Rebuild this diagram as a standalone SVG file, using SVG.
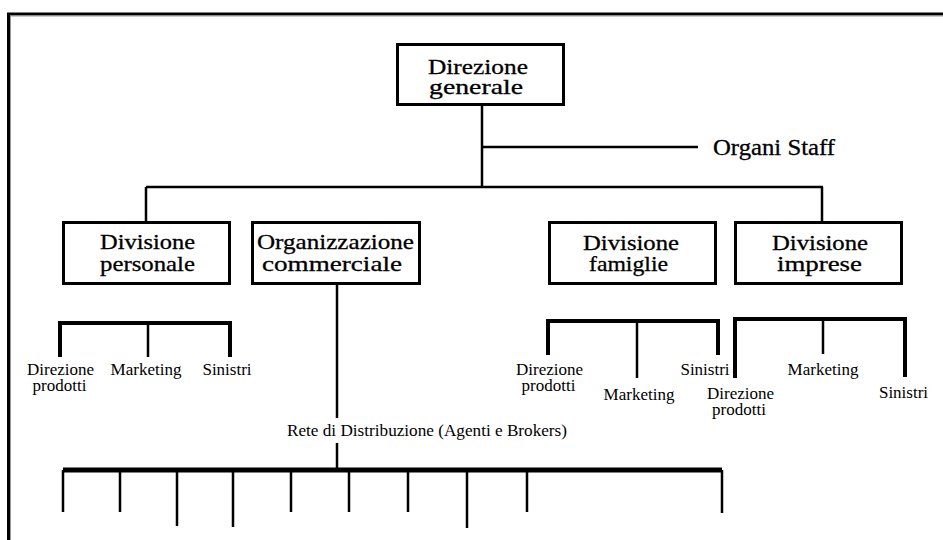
<svg xmlns="http://www.w3.org/2000/svg" width="943" height="540" viewBox="0 0 943 540">
<style>
  .box { fill: #fff; stroke: #000; stroke-width: 3; }
  .ln { stroke: #000; stroke-width: 2.5; fill: none; stroke-linecap: butt; }
  .br { stroke: #000; stroke-width: 4; fill: none; }
  .bar { stroke: #000; stroke-width: 5; fill: none; }
  .bt { font-family: "Liberation Serif", "Times New Roman", serif; font-size: 22px; fill: #000; stroke: #000; stroke-width: 0.3; text-anchor: middle; }
  .os { font-family: "Liberation Serif", "Times New Roman", serif; font-size: 23px; fill: #000; stroke: #000; stroke-width: 0.3; }
  .st { font-family: "Liberation Serif", "Times New Roman", serif; font-size: 17px; fill: #000; text-anchor: middle; }
</style>
<rect x="0" y="0" width="943" height="540" fill="#fff"/>
<g id="frame">
  <path d="M8.5 540 V14 H943" fill="none" stroke="#000" stroke-width="3"/>
  <path d="M10.5 540 V16 H943" fill="none" stroke="#999" stroke-width="1"/>
</g>
<g id="connectors">
  <path class="ln" d="M482 106 V187"/>
  <path class="ln" d="M482 147 H698"/>
  <path class="ln" d="M146 187 H823"/>
  <path class="ln" d="M146 187 V222"/>
  <path class="ln" d="M822 187 V222"/>
  <path class="ln" d="M337 285 V418"/>
  <path class="ln" d="M337 443 V470"/>
  <path class="br" d="M60 357 V323 H230 V357"/>
  <path class="ln" d="M148 323 V357"/>
  <path class="br" d="M548 355 V321 H718 V355"/>
  <path class="ln" d="M637 321 V378"/>
  <path class="br" d="M735 378 V319 H905 V377"/>
  <path class="ln" d="M823 319 V354"/>
  <path class="bar" d="M63 470 H722"/>
  <path class="ln" d="M63 470 V512 M120 470 V512 M177 470 V526 M233 470 V527 M291 470 V512 M349 470 V512 M408 470 V512 M467 470 V528 M527 470 V512 M722 470 V513"/>
</g>
<g id="direzione-generale">
  <rect class="box" x="397.5" y="44.5" width="166" height="60"/>
  <text class="bt" x="478" y="74" textLength="100" lengthAdjust="spacingAndGlyphs">Direzione</text>
  <text class="bt" x="476" y="94" textLength="94" lengthAdjust="spacingAndGlyphs">generale</text>
</g>
<g id="organi-staff">
  <text class="os" x="713" y="155" textLength="122" lengthAdjust="spacingAndGlyphs">Organi Staff</text>
</g>
<g id="divisione-personale">
  <rect class="box" x="63.5" y="222.5" width="166" height="61"/>
  <text class="bt" x="147.5" y="249" textLength="95" lengthAdjust="spacingAndGlyphs">Divisione</text>
  <text class="bt" x="147.5" y="271" textLength="95" lengthAdjust="spacingAndGlyphs">personale</text>
</g>
<g id="organizzazione-commerciale">
  <rect class="box" x="252.5" y="222.5" width="167" height="61"/>
  <text class="bt" x="335.5" y="249" textLength="157" lengthAdjust="spacingAndGlyphs">Organizzazione</text>
  <text class="bt" x="332" y="271" textLength="140" lengthAdjust="spacingAndGlyphs">commerciale</text>
</g>
<g id="divisione-famiglie">
  <rect class="box" x="549.5" y="222.5" width="166" height="61"/>
  <text class="bt" x="631" y="250" textLength="96" lengthAdjust="spacingAndGlyphs">Divisione</text>
  <text class="bt" x="628.5" y="271" textLength="79" lengthAdjust="spacingAndGlyphs">famiglie</text>
</g>
<g id="divisione-imprese">
  <rect class="box" x="735.5" y="222.5" width="166" height="61"/>
  <text class="bt" x="820" y="250" textLength="96" lengthAdjust="spacingAndGlyphs">Divisione</text>
  <text class="bt" x="819.5" y="271" textLength="85" lengthAdjust="spacingAndGlyphs">imprese</text>
</g>
<g id="personale-direzione-prodotti">
  <text class="st" x="60.5" y="375">Direzione</text>
  <text class="st" x="59.5" y="391">prodotti</text>
</g>
<g id="personale-marketing"><text class="st" x="146" y="375">Marketing</text></g>
<g id="personale-sinistri"><text class="st" x="227" y="375">Sinistri</text></g>
<g id="famiglie-direzione-prodotti">
  <text class="st" x="549.5" y="375">Direzione</text>
  <text class="st" x="548.5" y="391">prodotti</text>
</g>
<g id="famiglie-marketing"><text class="st" x="639" y="400">Marketing</text></g>
<g id="famiglie-sinistri"><text class="st" x="705" y="375">Sinistri</text></g>
<g id="imprese-direzione-prodotti">
  <text class="st" x="740.5" y="399">Direzione</text>
  <text class="st" x="739" y="415">prodotti</text>
</g>
<g id="imprese-marketing"><text class="st" x="823" y="375">Marketing</text></g>
<g id="imprese-sinistri"><text class="st" x="903.5" y="398">Sinistri</text></g>
<g id="rete-distribuzione">
  <text class="st" x="427" y="436" textLength="280" lengthAdjust="spacingAndGlyphs">Rete di Distribuzione (Agenti e Brokers)</text>
</g>
</svg>
